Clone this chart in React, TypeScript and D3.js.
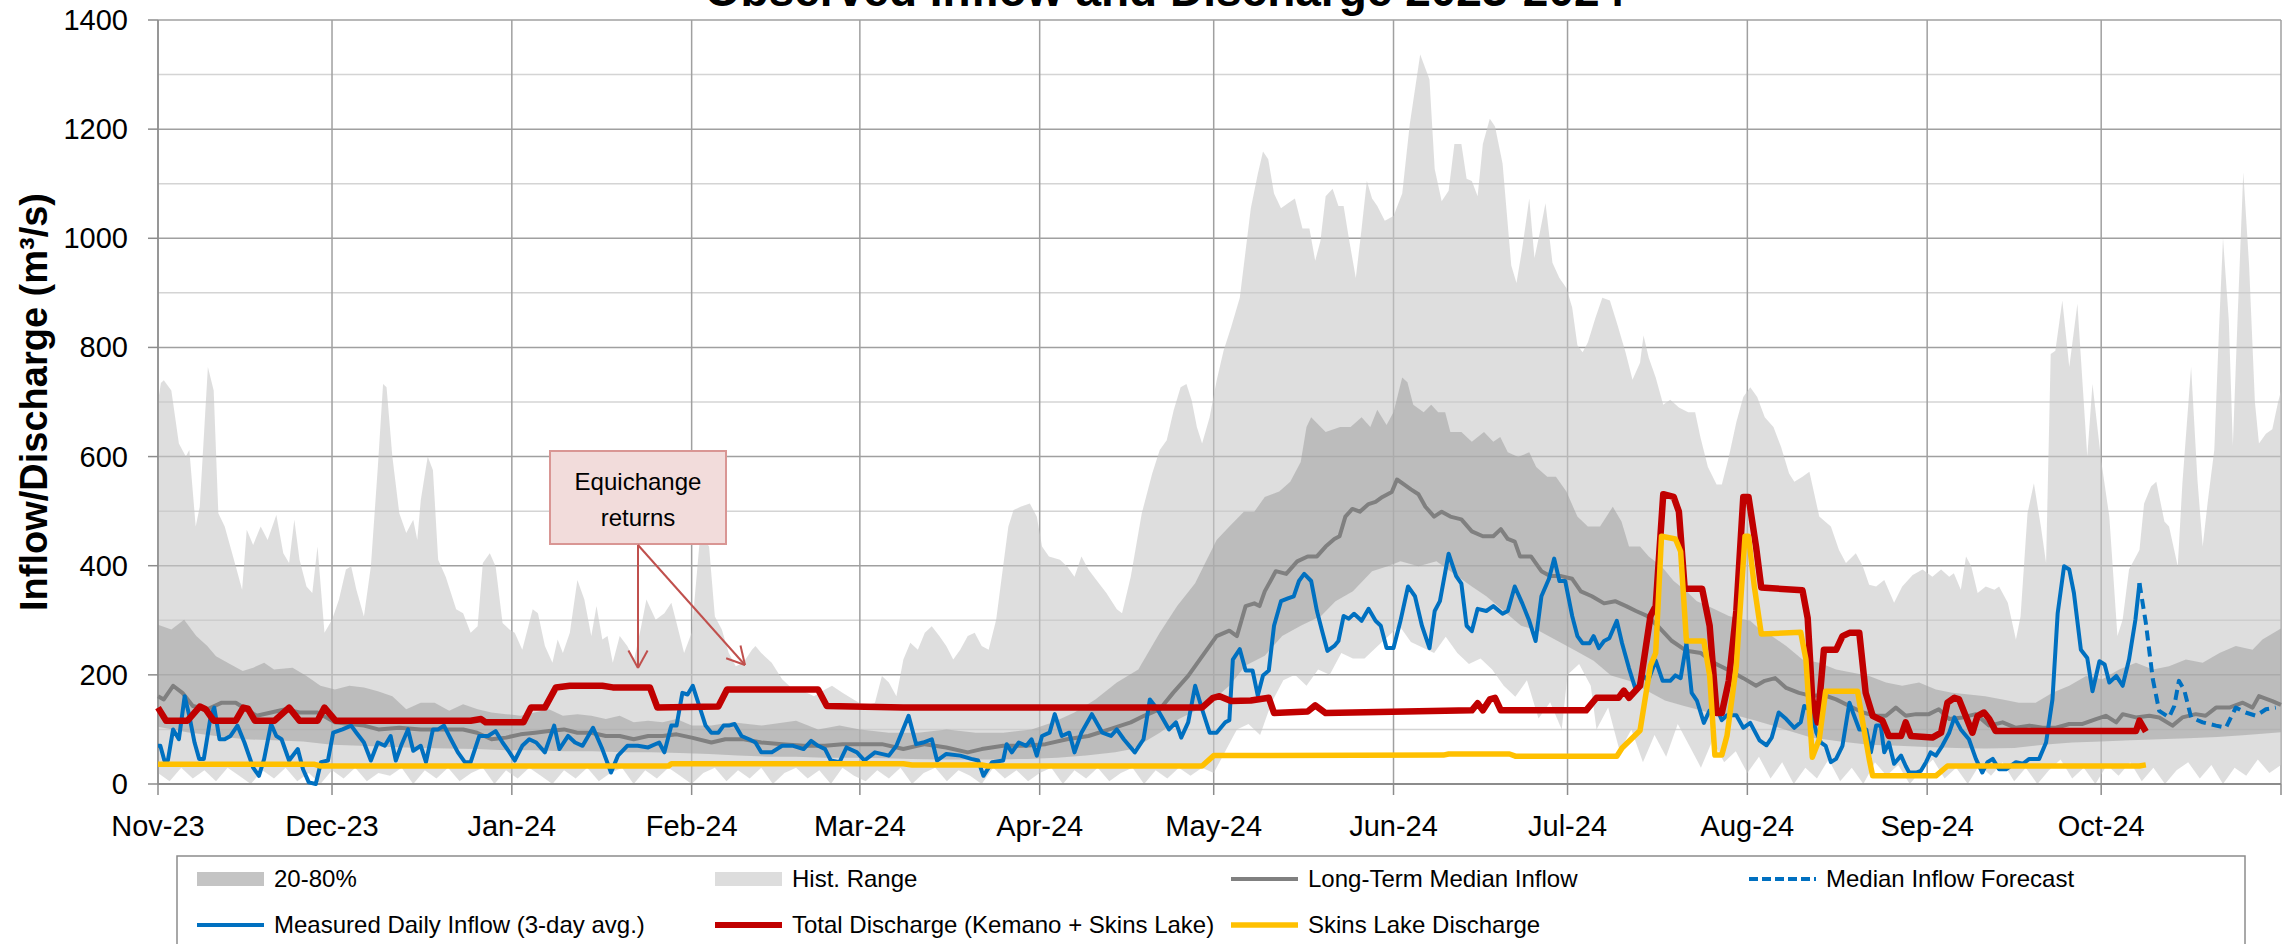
import React, { useEffect, useRef } from 'react';
import * as d3 from 'd3';

// [day since 1 Nov 2023, value in m3/s]
const histMax = [
  [0,700],[0.5,735],[1,740],[2.3,721],[3.6,624],[4.8,600],[5.4,612],[6.5,472],[7.2,508],[8.6,764],[9.6,721],[10.4,496],[11.5,472],[13.4,399],[14.5,356],[15.3,466],[16.4,438],[17.7,472],[18.9,447],[20.4,493],[21.6,423],[22.6,405],[23.5,484],[24.4,411],[25.6,362],[26.6,350],[27.5,435],[28.7,277],[30,301],[31.2,338],[32.4,393],[33.3,399],[34.2,356],[35.5,307],[36.7,399],[37.9,581],[38.8,733],[39.4,727],[40.4,600],[41.6,496],[42.8,460],[44,484],[44.7,447],[45.3,520],[46.5,600],[47.4,575],[48.3,411],[49.6,380],[51.4,320],[52.6,313],[53.9,277],[55.1,289],[56,405],[57.2,423],[58.2,399],[59.4,295],[60.6,283],[61.5,277],[62.8,246],[64.6,320],[65.5,313],[66.7,253],[68,222],[68.9,265],[69.8,240],[71,277],[72.3,374],[73.5,338],[74.7,271],[75.6,326],[76.6,265],[77.5,271],[78.4,222],[79.6,271],[80.9,253],[82.1,228],[83.3,289],[84.2,338],[85.8,301],[87.3,313],[88.5,332],[89.4,295],[90.7,240],[92,277],[93.4,447],[94.2,447],[95,435],[96,307],[97.2,283],[98.4,240],[99.6,216],[100.9,222],[102.4,246],[103,253],[104,240],[105.8,222],[107.6,192],[109.5,173],[111.3,170],[113.1,161],[115,173],[116.2,180],[118,167],[119.9,155],[121.8,143],[123.6,149],[124.8,198],[126,186],[127.3,161],[128.5,228],[129.7,259],[131,246],[132.2,277],[133.4,289],[134.7,271],[135.9,253],[137.1,228],[138.3,246],[139.6,271],[140.8,277],[142,253],[143.2,246],[144.5,301],[145.7,399],[146.6,472],[147.5,502],[148.7,508],[150.3,514],[151.5,490],[152.4,435],[153.6,417],[155.5,411],[156.7,399],[158,380],[159.2,417],[160.4,393],[162.2,368],[163.5,350],[165.3,320],[166.2,313],[167.7,380],[169.6,496],[171.4,569],[172.7,612],[173.9,630],[175.1,685],[176.3,727],[177.3,733],[178.2,703],[179.1,654],[180,624],[181.3,672],[182.5,739],[183.7,794],[185,837],[186.5,891],[188.4,1055],[189.6,1118],[190.5,1159],[191.4,1145],[192.4,1082],[193.6,1055],[194.8,1064],[196,1073],[197.3,1018],[198.5,1018],[199.5,959],[200.4,995],[201.3,1077],[202.5,1091],[203.5,1059],[204.4,1059],[205.3,1000],[206.5,927],[207.5,1018],[208.4,1105],[209.3,1073],[210.2,1059],[211.5,1032],[213,1041],[214.5,1082],[215.8,1209],[217.6,1337],[219.2,1291],[220.1,1127],[221.3,1068],[222.5,1087],[223.5,1173],[224.7,1173],[225.6,1109],[226.5,1105],[227.5,1077],[228.4,1173],[229.6,1219],[230.5,1205],[231.8,1137],[233.3,950],[234.2,918],[235.2,982],[236.4,1073],[237.3,964],[238.2,1009],[239.2,1064],[240.4,955],[241.6,927],[242.8,909],[243.8,873],[244.7,804],[245.6,791],[246.5,809],[247.8,854],[249,891],[250.3,886],[251.5,845],[253,791],[254.2,741],[255.5,772],[256.1,822],[257,781],[258.2,745],[259.5,695],[260.7,704],[262.2,690],[263.8,681],[265,681],[265.9,636],[267.2,581],[268.7,549],[269.6,549],[270.8,599],[272.1,663],[273.3,709],[274.5,727],[275.7,709],[277,672],[278.5,654],[279.8,618],[281.2,569],[282.1,554],[283.5,563],[284.7,572],[286.4,490],[288.4,472],[289.8,429],[291,405],[292.7,423],[293.9,399],[295,365],[296.2,362],[297.6,374],[299.3,332],[300.7,362],[302.5,383],[304.2,393],[305.9,380],[307.4,393],[308.8,380],[309.6,386],[310.8,356],[311.7,417],[312.6,399],[313.7,350],[315.1,362],[316.6,356],[317.4,362],[318.9,332],[320.3,265],[321.1,307],[322.3,496],[323.4,551],[324.6,472],[325.5,405],[326.3,788],[327.1,794],[328.3,886],[329.5,764],[330.9,880],[332.6,600],[333.5,733],[335,593],[336.4,490],[337.8,271],[338.7,301],[339.8,393],[341.6,429],[342.4,514],[343.6,545],[344.5,554],[345.9,481],[346.7,472],[348.2,399],[349,551],[350.5,764],[351.6,557],[352.5,435],[353.4,520],[354.5,612],[355.3,830],[356,1000],[357,850],[357.7,620],[358.5,850],[359.5,1121],[360.5,950],[361.5,700],[362.2,624],[363.4,642],[364.5,650],[365.5,700],[366,720]
];

const histMin = [
  [0,20],[2,5],[4,30],[6,10],[8,25],[10,5],[12,30],[14,15],[16,0],[18,25],[20,10],[22,30],[24,5],[26,20],[28,0],[30,25],[32,10],[34,30],[36,5],[38,20],[40,15],[42,30],[44,0],[46,25],[48,10],[50,30],[52,5],[54,20],[56,30],[58,0],[60,25],[62,10],[64,30],[66,15],[68,0],[70,25],[72,10],[74,30],[76,5],[78,20],[80,30],[82,0],[84,25],[86,10],[88,30],[90,15],[92,0],[94,20],[96,30],[98,5],[100,25],[102,10],[104,30],[106,0],[108,20],[110,30],[112,10],[114,25],[116,0],[118,30],[120,15],[122,5],[124,25],[126,10],[128,30],[130,0],[132,20],[134,30],[136,5],[138,25],[140,15],[142,0],[144,30],[146,10],[148,25],[150,5],[152,20],[154,30],[156,0],[158,25],[160,10],[162,30],[164,5],[166,20],[168,30],[170,0],[172,25],[174,10],[176,30],[178,15],[180,30],[182,20],
  [184,60],[186,100],[188,110],[190,90],[192,150],[194,190],[196,200],[198,180],[200,210],[202,200],[204,240],[206,230],[208,230],[210,250],[212,270],[214,290],[216,260],[218,250],[220,240],[222,270],[224,240],[226,220],[228,230],[230,210],[232,180],[234,160],[236,190],[238,120],[240,150],[242,100],[243,200],[245,220],[247,180],[248,100],[250,140],[252,60],[254,100],[256,40],[258,90],[260,50],[262,110],[264,70],[266,30],[268,80],[270,40],[272,60],[274,20],[276,50],[278,10],
  [280,40],[282,0],[284,30],[286,10],[288,45],[290,5],[292,30],[294,0],[296,40],[298,15],[300,35],[302,0],[304,25],[306,45],[308,10],[310,30],[312,0],[314,35],[316,15],[318,40],[320,5],[322,30],[324,0],[326,25],[328,45],[330,10],[332,30],[334,0],[336,35],[338,15],[340,40],[342,5],[344,30],[346,0],[348,25],[350,40],[352,10],[354,35],[356,0],[358,30],[360,15],[362,45],[364,20],[366,35]
];

const p80 = [
  [0,292],[2.3,283],[4.5,301],[6.6,271],[8.5,253],[10,234],[12,222],[14.6,207],[16.4,213],[18.3,222],[20,210],[23.2,213],[25.6,198],[28,180],[30.5,173],[33,180],[35.5,177],[37.9,170],[40.4,161],[42.8,137],[45.3,149],[47.7,149],[50.2,134],[52.6,146],[55.1,137],[57.5,131],[60,128],[62.5,125],[64.9,131],[67.4,137],[69.8,125],[72.3,128],[74.7,125],[77.2,119],[79.6,125],[82,113],[84.5,116],[87,113],[89.4,119],[92,107],[95.4,107],[99,113],[104,107],[110,116],[113.8,100],[117.5,107],[121,100],[126,94],[131,94],[136,100],[141,94],[145.7,94],[150.6,100],[154.3,113],[158,131],[161.6,155],[165.3,186],[169,210],[172.7,277],[175.7,326],[178.8,368],[182.5,447],[184.7,472],[187.2,499],[189,499],[190.8,526],[193.3,536],[195.2,554],[197,590],[198,654],[198.8,672],[201.3,645],[203.8,654],[205.6,654],[207.5,672],[209,654],[210.2,686],[211.8,658],[213,681],[214.5,745],[215.4,736],[216.4,695],[218.2,681],[219.5,695],[220.7,681],[221.9,681],[222.8,645],[224.7,645],[226.5,627],[228.6,645],[230.2,627],[231.4,636],[232.7,608],[234.5,599],[236.4,608],[237.6,581],[239.5,563],[241,563],[242.8,536],[244.7,490],[246.5,472],[248.6,472],[250.8,508],[252.3,481],[253.6,435],[255.5,435],[257,417],[259.2,399],[261.3,372],[263.5,353],[265.3,335],[267.2,326],[269,317],[270.8,308],[272.7,303],[274.5,299],[276.4,281],[278.2,271],[280.7,253],[283.5,228],[286.4,222],[289.3,210],[292.2,204],[295,198],[297.9,186],[300.7,180],[303.6,186],[306.5,173],[309.3,167],[312.2,164],[315,161],[318,155],[320.8,149],[323.7,149],[326.6,167],[329.5,180],[332.4,198],[335.2,192],[338.1,210],[341,222],[343.9,210],[346.7,216],[349.6,228],[352.5,222],[355.4,240],[358.2,253],[361.1,246],[362.8,265],[365.7,283],[366,285]
];

const p20 = [
  [0,105],[5,95],[10,88],[15,82],[20,80],[25,78],[30,72],[35,70],[40,68],[45,66],[50,65],[55,64],[60,62],[65,62],[70,60],[75,60],[80,58],[85,58],[90,57],[95,55],[100,52],[105,50],[110,50],[115,48],[120,48],[125,47],[130,46],[135,45],[140,45],[145,45],[150,46],[155,48],[160,52],[165,58],[168,64],[172.7,94],[176,119],[180,140],[182.5,160],[184.7,180],[187.5,217],[190.8,235],[193.8,271],[197,290],[200.5,308],[203,335],[206,353],[209.3,390],[212,399],[214.2,408],[217.3,399],[220.4,408],[222.8,390],[226.5,362],[229,344],[232,317],[235,290],[238.2,280],[241.3,262],[244.4,244],[247.5,226],[250.5,199],[253.6,189],[256.7,171],[259.8,153],[262.8,144],[265.9,135],[269,126],[272,126],[275.2,117],[278.3,107],[281,98],[285,85],[290,78],[295,72],[300,70],[305,68],[310,66],[315,65],[320,66],[325,72],[330,76],[335,78],[340,80],[345,82],[350,84],[355,86],[360,90],[366,95]
];

const median = [
  [0,161],[1,155],[2.6,180],[4.2,167],[6,143],[8.5,137],[11,149],[13.4,149],[15.2,137],[17,125],[19.5,131],[22,137],[24.4,131],[27.5,131],[30.5,113],[33,110],[35.5,107],[38,100],[41.6,103],[45.3,100],[49,100],[52.6,100],[55,94],[57.5,82],[60,85],[62.5,91],[65,94],[67.4,97],[70,100],[72.3,94],[74.7,94],[77.2,88],[79.6,88],[82,82],[84.5,88],[87,88],[89.4,91],[92,85],[95.4,76],[97.8,82],[101,82],[104,76],[107.6,73],[111.3,70],[115,70],[118,73],[121,73],[124.8,73],[128.5,64],[132.2,73],[135.9,67],[139.6,58],[142,64],[145.7,70],[149.4,70],[153,73],[156.7,82],[160.4,88],[164,100],[167.7,113],[170,125],[172.7,137],[175,167],[177.6,198],[180,234],[182.5,271],[184.7,281],[186,271],[187.5,326],[189,331],[189.9,326],[190.8,353],[192.7,390],[194.5,385],[196.4,408],[198.2,417],[199.8,417],[201.3,435],[202.8,449],[203.7,454],[204.7,490],[205.9,504],[207.2,499],[208.7,513],[209.9,517],[211.1,526],[212.7,535],[213.6,558],[214.8,549],[216,540],[217.3,531],[218.5,508],[220,490],[221.3,499],[222.8,490],[224.7,485],[226.5,463],[228.4,454],[230.2,454],[231.5,467],[232.7,449],[233.9,444],[234.8,417],[236.7,417],[238.5,390],[240,381],[241.9,381],[243.8,376],[245.3,353],[247.2,344],[249.3,331],[251.2,335],[253.1,326],[254.8,317],[256.7,308],[258.5,290],[261,262],[263.5,244],[266,240],[268.4,221],[270.9,208],[273.3,194],[275.5,180],[277,189],[278.8,194],[280.7,176],[282.9,167],[285.2,161],[286.9,164],[289.3,155],[291.6,143],[293.9,131],[296.2,125],[297.9,125],[299.6,140],[301.3,125],[303.1,128],[305.3,128],[307,137],[308.8,119],[311.1,122],[313.4,128],[315.7,107],[318,113],[320.3,103],[322.6,107],[324.9,103],[327.2,103],[329.5,110],[331.8,110],[334.1,119],[335.8,125],[337.6,113],[338.7,128],[341,122],[343.3,125],[345,122],[347.3,107],[349,122],[351.3,128],[353,125],[354.8,140],[357.1,140],[359.4,149],[361.1,140],[362.2,161],[364.5,152],[366,145]
];

const measured = [
  [0,70],[0.4,70],[1.1,43],[1.7,43],[2.6,100],[3.6,82],[4.6,161],[5.4,125],[6.3,76],[7.1,46],[7.9,46],[9.1,125],[9.7,140],[10.6,82],[11.5,82],[12.5,88],[13.7,107],[14.9,76],[16.4,30],[17.4,15],[18.3,46],[19.5,110],[20.4,88],[21.3,82],[22.6,43],[24.1,64],[25,27],[26,3],[27.2,0],[28.1,40],[29.3,43],[30.2,94],[31.8,100],[33.3,107],[34.2,94],[35.5,76],[36.7,43],[37.9,76],[39.1,70],[40.1,88],[41,43],[41.9,70],[43.1,100],[44,61],[45.3,70],[46.2,40],[47.4,100],[48.3,100],[49.3,107],[50.5,82],[51.7,58],[52.9,40],[53.9,40],[55.4,88],[56.9,88],[58.2,97],[59.4,76],[60.6,58],[61.5,43],[62.8,70],[64,82],[65.2,76],[66.7,58],[68.3,107],[69.2,64],[70.7,88],[71.9,76],[73.2,70],[75,103],[76.6,64],[78.1,21],[79.3,52],[80.9,70],[82.7,70],[84.5,67],[86.4,76],[87.3,58],[88.5,107],[89.4,107],[90.4,167],[91.3,164],[92.2,180],[93.5,137],[94.4,107],[95.4,94],[96.6,94],[97.5,107],[98.4,107],[99.4,110],[100.6,88],[101.9,82],[103,76],[104,58],[105.8,58],[107.6,70],[109.5,70],[111.3,64],[112.6,79],[113.8,70],[115,64],[116,43],[117.5,40],[118.7,67],[120.5,58],[121.8,43],[123.6,58],[126,52],[127.3,70],[129.4,125],[130.7,73],[131.9,76],[133.4,82],[134.3,43],[135.9,55],[138.3,52],[140.2,46],[141.4,43],[142.3,15],[143.8,40],[145.7,43],[146.3,73],[147.2,58],[148.4,76],[149.7,70],[150.6,82],[151.5,52],[152.4,88],[153.7,94],[154.6,128],[155.8,88],[157.1,94],[158,58],[159.2,94],[161,128],[162.8,94],[164.3,88],[165.3,100],[166.5,82],[168.4,58],[169.9,82],[171,155],[172.3,137],[174.3,100],[175.5,113],[176.4,85],[177.6,113],[178.8,180],[180,137],[181.3,94],[182.5,94],[184,113],[184.7,117],[185.3,228],[186.5,247],[187.5,208],[188.7,208],[189.6,162],[190.5,199],[191.5,208],[192.4,290],[193.6,335],[194.8,340],[195.8,344],[196.7,372],[197.6,385],[198.8,372],[199.8,317],[200.7,280],[201.6,244],[202.8,253],[203.5,262],[204.4,308],[205.3,303],[206.2,312],[207.5,299],[208.7,321],[209.9,299],[210.8,290],[211.8,249],[213,249],[214.2,299],[215.5,362],[216.7,344],[217.9,290],[219.2,249],[220.1,317],[221,335],[222.5,422],[223.8,381],[224.7,367],[225.6,290],[226.5,280],[227.5,321],[229,317],[230.2,326],[231.8,312],[232.7,317],[233.9,362],[235.2,331],[236.4,299],[237.5,262],[238.5,344],[239.8,376],[240.7,413],[241.6,372],[242.6,372],[243.8,308],[244.7,271],[245.6,258],[246.8,258],[247.5,271],[248.4,249],[249.3,262],[250.2,267],[251.5,299],[252.4,258],[253.6,212],[254.8,171],[256,199],[256.9,189],[258.2,226],[259.4,189],[260.7,189],[261.6,199],[262.5,194],[263.5,258],[264.4,167],[265.3,153],[266.5,112],[267.5,135],[268.7,139],[269.6,117],[270.5,126],[272.1,126],[273.3,103],[274.5,112],[276.1,80],[277.3,71],[278.2,85],[279.4,131],[280.7,119],[282.1,103],[283.2,113],[283.8,143],[285,134],[285.9,94],[286.7,76],[287.5,70],[288.4,40],[289.3,46],[290.4,70],[291.6,149],[292.2,131],[293.3,100],[294.5,100],[295.3,58],[296.2,107],[297,107],[297.6,58],[298.4,76],[299.3,37],[300.5,52],[301.3,33],[301.9,21],[303.1,21],[303.9,24],[304.8,40],[305.6,58],[306.5,52],[307.6,70],[308.8,94],[309.7,122],[310.8,100],[312.2,82],[313.4,46],[314.5,21],[315.4,40],[316.3,46],[317.4,27],[318.6,27],[320.3,40],[321.5,37],[322.6,46],[324.3,46],[325.5,76],[326.6,155],[327.5,313],[328.6,399],[329.5,393],[330.3,350],[331.5,246],[332.6,231],[333.5,170],[334.7,225],[335.6,219],[336.4,186],[337.6,198],[338.7,180],[339.8,228],[340.9,301],[341.6,368]
];

const forecast = [
  [341.6,368],[342.7,295],[343.9,192],[345,134],[346.7,122],[347.6,143],[348.4,189],[349.3,173],[350.5,122],[352.5,113],[354.8,107],[356.5,103],[358.2,140],[359.9,131],[361.7,125],[363.4,137],[365.1,140]
];

const totalDischarge = [
  [0,140],[1.4,116],[5.1,116],[7.2,142],[8.2,137],[9.6,116],[13.4,116],[14.7,140],[15.5,138],[16.7,116],[20.1,116],[22.6,140],[24.4,116],[27.5,116],[28.7,140],[30.6,116],[53.9,116],[55.7,119],[56.5,113],[63,113],[64.3,140],[66.7,140],[68.6,177],[71,180],[76.6,180],[78.4,177],[84.8,177],[86.1,140],[96.6,142],[98.1,173],[113.8,173],[115.3,143],[128.5,140],[180,140],[181.9,158],[183,161],[185,152],[188.4,153],[191.5,158],[192.4,130],[198.2,133],[199.5,144],[201.3,130],[226.5,135],[227.5,148],[228.4,135],[229.6,155],[230.5,158],[231.5,135],[246.2,135],[248,158],[251.8,158],[252.7,171],[253.6,158],[255.5,180],[257.3,308],[258.2,326],[259.5,531],[261.3,526],[262.2,499],[263.2,358],[266.2,358],[267.5,290],[268.7,130],[269.6,130],[270.8,189],[272.1,317],[273.3,526],[274.2,526],[275.5,435],[276.4,360],[283.5,355],[284.4,304],[285.2,155],[286.1,113],[287.2,246],[289.3,246],[290.4,271],[291.6,277],[293.3,277],[294.4,167],[295.6,125],[297.3,116],[298.4,88],[300.5,88],[301.3,113],[302.2,88],[305.9,85],[307.4,94],[308.5,149],[309.7,158],[310.5,155],[312.8,94],[313.7,125],[314.8,131],[315.7,119],[316.8,97],[341,97],[341.6,116],[342.7,96]
];

const skinsDischarge = [
  [0,36],[27,36],[28,33],[88,33],[88.5,37],[128.5,37],[130,35],[142,35],[143,33],[180,33],[182,52],[221.6,53],[222.5,55],[233,55],[234,51],[251.5,51],[252.4,66],[255.5,98],[257.3,217],[258.2,240],[259.2,454],[261.6,449],[262.5,426],[263.5,262],[266.5,262],[267.5,199],[268.4,53],[269.6,53],[270.5,89],[272.1,217],[273.6,454],[274.2,454],[275.2,362],[276.4,275],[283.2,278],[284.1,228],[285.2,49],[286.4,82],[287.5,170],[293,170],[293.9,113],[295,46],[295.6,15],[306.5,15],[308.5,33],[341.6,33],[342.7,35]
];

const yTicks = [0, 200, 400, 600, 800, 1000, 1200, 1400];

const legendRow1 = ['20-80%', 'Hist. Range', 'Long-Term Median Inflow', 'Median Inflow Forecast'];
const legendRow2 = ['Measured Daily Inflow (3-day avg.)', 'Total Discharge (Kemano + Skins Lake)', 'Skins Lake Discharge'];

const FONT = "'Liberation Sans', Arial, sans-serif";

const App = () => {
  const svgRef = useRef(null);

  useEffect(() => {
    const svg = d3.select(svgRef.current);
    svg.selectAll('*').remove();

    const start = Date.UTC(2023, 10, 1);
    const end = Date.UTC(2024, 10, 1);
    const toDate = (d) => new Date(start + d * 86400000);

    const left = 158, right = 2281, top = 20, bottom = 784;

    const x = d3.scaleUtc().domain([new Date(start), new Date(end)]).range([left, right]);
    const y = d3.scaleLinear().domain([0, 1400]).range([bottom, top]);

    const line = d3.line().x(p => x(toDate(p[0]))).y(p => y(p[1]));
    const band = (upper, lower) => line(upper.concat(lower.slice().reverse())) + 'Z';

    // gridlines
    const grid = svg.append('g');
    d3.range(100, 1400, 200).forEach(v => {
      grid.append('line').attr('x1', left).attr('x2', right).attr('y1', y(v)).attr('y2', y(v))
        .attr('stroke', '#d4d4d4').attr('stroke-width', 1.5);
    });
    yTicks.filter(v => v > 0).forEach(v => {
      grid.append('line').attr('x1', left).attr('x2', right).attr('y1', y(v)).attr('y2', y(v))
        .attr('stroke', '#a0a0a0').attr('stroke-width', 1.5);
    });
    const months = d3.utcMonth.range(new Date(start), new Date(end + 1));
    months.forEach(m => {
      grid.append('line').attr('x1', x(m)).attr('x2', x(m)).attr('y1', top).attr('y2', bottom)
        .attr('stroke', '#a0a0a0').attr('stroke-width', 1.5);
    });

    // shaded ranges
    svg.append('path').attr('d', band(histMax, histMin)).attr('fill', '#c8c8c8').attr('fill-opacity', 0.6);
    svg.append('path').attr('d', band(p80, p20)).attr('fill', '#a0a0a0').attr('fill-opacity', 0.55);

    // axes
    svg.append('line').attr('x1', left).attr('x2', right).attr('y1', bottom).attr('y2', bottom)
      .attr('stroke', '#8c8c8c').attr('stroke-width', 2);
    svg.append('line').attr('x1', left).attr('x2', left).attr('y1', top).attr('y2', bottom)
      .attr('stroke', '#8c8c8c').attr('stroke-width', 1.5);
    yTicks.forEach(v => {
      svg.append('line').attr('x1', left - 10).attr('x2', left).attr('y1', y(v)).attr('y2', y(v))
        .attr('stroke', '#8c8c8c').attr('stroke-width', 1.5);
      svg.append('text').attr('x', 128).attr('y', y(v) + 10).attr('text-anchor', 'end')
        .style('font-family', FONT).style('font-size', '29px').attr('fill', '#000').text(v);
    });
    months.forEach((m, i) => {
      svg.append('line').attr('x1', x(m)).attr('x2', x(m)).attr('y1', bottom).attr('y2', bottom + 11)
        .attr('stroke', '#8c8c8c').attr('stroke-width', 1.5);
      if (i < months.length - 1) {
        svg.append('text').attr('x', x(m)).attr('y', 836).attr('text-anchor', 'middle')
          .style('font-family', FONT).style('font-size', '29px').attr('fill', '#000')
          .text(d3.utcFormat('%b-%y')(m));
      }
    });

    // series
    const drawLine = (data, color, width, dash) => {
      const p = svg.append('path').attr('d', line(data)).attr('fill', 'none')
        .attr('stroke', color).attr('stroke-width', width).attr('stroke-linejoin', 'round');
      if (dash) p.attr('stroke-dasharray', dash);
    };
    drawLine(median, '#808080', 4);
    drawLine(forecast, '#0070c0', 4, '10 6');
    drawLine(measured, '#0070c0', 4);
    drawLine(totalDischarge, '#c00000', 6.5);
    drawLine(skinsDischarge, '#ffc000', 5.5);

    // annotation
    const ann = svg.append('g');
    ann.append('rect').attr('x', 550).attr('y', 451).attr('width', 176).attr('height', 93)
      .attr('fill', '#f2dcdb').attr('stroke', '#d99694').attr('stroke-width', 2);
    ann.append('text').attr('x', 638).attr('y', 490).attr('text-anchor', 'middle')
      .style('font-family', FONT).style('font-size', '24px').text('Equichange');
    ann.append('text').attr('x', 638).attr('y', 526).attr('text-anchor', 'middle')
      .style('font-family', FONT).style('font-size', '24px').text('returns');
    const arrow = (x1, y1, x2, y2) => {
      ann.append('line').attr('x1', x1).attr('y1', y1).attr('x2', x2).attr('y2', y2)
        .attr('stroke', '#c0504d').attr('stroke-width', 2);
      const a = Math.atan2(y2 - y1, x2 - x1);
      const len = 20, spread = 0.5;
      [a + Math.PI - spread, a + Math.PI + spread].forEach(b => {
        ann.append('line').attr('x1', x2).attr('y1', y2)
          .attr('x2', x2 + len * Math.cos(b)).attr('y2', y2 + len * Math.sin(b))
          .attr('stroke', '#c0504d').attr('stroke-width', 2);
      });
    };
    arrow(638, 545, 638, 668);
    arrow(638, 545, 745, 665);

    // titles
    svg.append('text').attr('x', 1165).attr('y', 6).attr('text-anchor', 'middle')
      .style('font-family', FONT).style('font-size', '46px').style('font-weight', 'bold')
      .text('Observed Inflow and Discharge 2023-2024');
    svg.append('text').attr('transform', 'translate(34,402) rotate(-90)')
      .attr('text-anchor', 'middle').attr('dominant-baseline', 'central')
      .style('font-family', FONT).style('font-size', '38px').style('font-weight', 'bold')
      .text('Inflow/Discharge (m³/s)');

    // legend
    const lg = svg.append('g');
    lg.append('rect').attr('x', 177).attr('y', 856).attr('width', 2068).attr('height', 120)
      .attr('fill', '#fff').attr('stroke', '#8c8c8c').attr('stroke-width', 1.5);
    const cols = [197, 715, 1231, 1749];
    const rows = [879, 925];
    const sw = 67;
    const label = (t, c, r) => lg.append('text').attr('x', cols[c] + sw + 10).attr('y', rows[r] + 8)
      .style('font-family', FONT).style('font-size', '24px').text(t);
    const seg = (c, r, color, w, dash) => {
      const l = lg.append('line').attr('x1', cols[c]).attr('x2', cols[c] + sw)
        .attr('y1', rows[r]).attr('y2', rows[r]).attr('stroke', color).attr('stroke-width', w);
      if (dash) l.attr('stroke-dasharray', dash);
    };
    lg.append('rect').attr('x', cols[0]).attr('y', rows[0] - 7).attr('width', sw).attr('height', 14).attr('fill', '#c4c4c4');
    lg.append('rect').attr('x', cols[1]).attr('y', rows[0] - 7).attr('width', sw).attr('height', 14).attr('fill', '#dddddd');
    seg(2, 0, '#808080', 4);
    seg(3, 0, '#0070c0', 4, '9 4');
    seg(0, 1, '#0070c0', 4);
    seg(1, 1, '#c00000', 6);
    seg(2, 1, '#ffc000', 5.5);
    legendRow1.forEach((t, i) => label(t, i, 0));
    legendRow2.forEach((t, i) => label(t, i, 1));
  }, []);

  return (
    <svg ref={svgRef} width={2290} height={944}
      style={{ position: 'absolute', left: 0, top: 0, background: '#fff' }} />
  );
};

export default App;
